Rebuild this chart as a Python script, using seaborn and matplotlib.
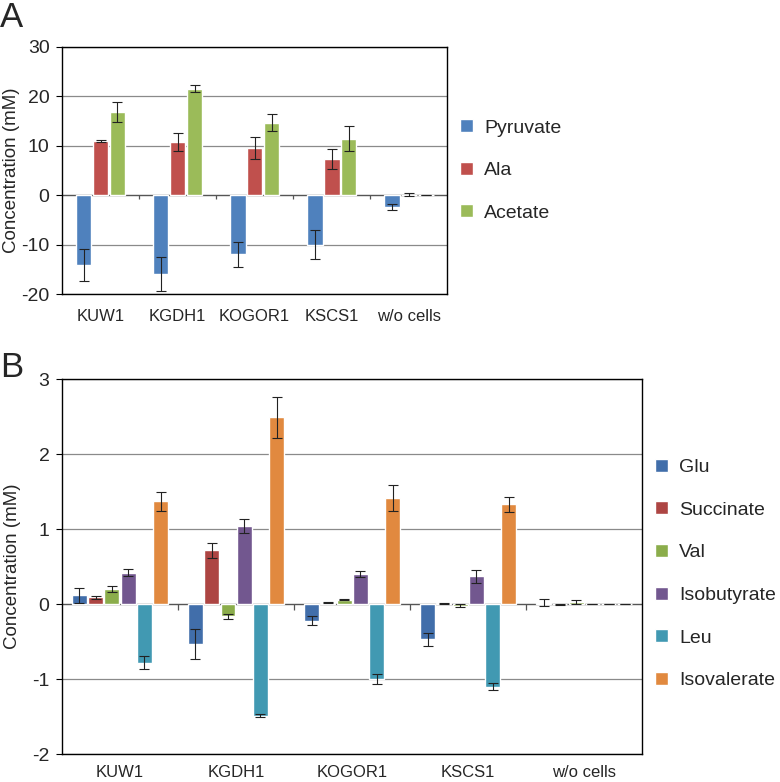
import pandas as pd
import matplotlib
matplotlib.use("Agg")
import matplotlib.pyplot as plt
import seaborn as sns

# Categories (strains)
strains = ["KUW1", "KGDH1", "KOGOR1", "KSCS1", "w/o cells"]

# Panel A values (mM)
a_compounds = ["Pyruvate", "Ala", "Acetate"]
a_pyruvate = [-14.1, -15.9, -12.0, -10.0, -2.4]
a_ala = [10.95, 10.7, 9.5, 7.3, 0.1]
a_acetate = [16.9, 21.5, 14.7, 11.4, 0.0]
a_pyruvate_err = [3.2, 3.4, 2.6, 2.9, 0.6]
a_ala_err = [0.2, 1.8, 2.2, 2.0, 0.3]
a_acetate_err = [2.0, 0.7, 1.75, 2.5, 0.0]

# Panel B values (mM)
b_compounds = ["Glu", "Succinate", "Val", "Isobutyrate", "Leu", "Isovalerate"]
b_glu = [0.12, -0.53, -0.22, -0.47, 0.02]
b_succinate = [0.093, 0.72, 0.018, 0.01, -0.005]
b_val = [0.2, -0.165, 0.058, -0.022, 0.027]
b_isobutyrate = [0.42, 1.04, 0.40, 0.37, 0.0]
b_leu = [-0.78, -1.49, -1.0, -1.1, 0.0]
b_isovalerate = [1.37, 2.49, 1.41, 1.33, 0.0]
b_glu_err = [0.1, 0.2, 0.065, 0.09, 0.05]
b_succinate_err = [0.02, 0.1, 0.01, 0.005, 0.005]
b_val_err = [0.035, 0.035, 0.01, 0.02, 0.027]
b_isobutyrate_err = [0.05, 0.09, 0.045, 0.085, 0.0]
b_leu_err = [0.09, 0.02, 0.07, 0.05, 0.0]
b_isovalerate_err = [0.13, 0.27, 0.175, 0.1, 0.0]

a_colors = ["#4F81BD", "#C0504D", "#9BBB59"]
b_colors = ["#416EAA", "#AD4543", "#8BAD4B", "#72578F", "#4199B2", "#E1893F"]

sns.set_style("white")
plt.rcParams["font.family"] = ["Liberation Sans", "DejaVu Sans"]


def long_table(compounds, values, errors):
    rows = []
    for comp, vals, errs in zip(compounds, values, errors):
        for s, v, e in zip(strains, vals, errs):
            rows.append({"strain": s, "compound": comp, "value": v, "err": e})
    return pd.DataFrame(rows)


def draw_panel(ax, df, compounds, colors, width, gap, ylim, yticks, legend_y,
               xpad, label_x):
    sns.barplot(data=df, x="strain", y="value", hue="compound", order=strains,
                hue_order=compounds, palette=colors, width=width, gap=gap,
                errorbar=None, saturation=1, ax=ax, zorder=3)
    # error bars at the bar centres
    for comp, cont in zip(compounds, ax.containers):
        sub = df[df["compound"] == comp].set_index("strain").loc[strains]
        xs = [p.get_x() + p.get_width() / 2 for p in cont.patches]
        ax.errorbar(xs, sub["value"], yerr=sub["err"], fmt="none",
                    ecolor="#222222", elinewidth=0.8, capsize=3.5,
                    capthick=0.8, zorder=4)
    ax.set_ylim(*ylim)
    ax.set_xlim(-0.5, len(strains) - 0.5)
    ax.set_yticks(yticks)
    ax.yaxis.grid(True, color="#8a8a8a", linewidth=0.9, zorder=0)
    ax.set_axisbelow(True)
    ax.axhline(0, color="#555555", linewidth=0.9, zorder=2)
    span = ylim[1] - ylim[0]
    ax.vlines([i + 0.5 for i in range(len(strains) - 1)], 0, -span * 0.015,
              color="#555555", linewidth=0.9)
    for s in ax.spines.values():
        s.set_color("black")
        s.set_linewidth(1.0)
    ax.tick_params(axis="y", length=4, color="black", labelsize=14, pad=5, left=True)
    ax.tick_params(axis="x", length=0, labelsize=12, pad=xpad)
    ax.set_xlabel("")
    ax.set_ylabel("Concentration (mM)", fontsize=13.5)
    ax.yaxis.set_label_coords(label_x, 0.5)
    ax.set_yticklabels([str(t) for t in yticks])
    handles, labels = ax.get_legend_handles_labels()
    ax.legend(handles, labels, loc="center left", bbox_to_anchor=(1.0, legend_y),
              frameon=False, fontsize=14, handlelength=0.65, handleheight=0.65,
              handletextpad=0.6, labelspacing=1.3, borderaxespad=0.25)


fig = plt.figure(figsize=(7.8, 7.82), dpi=100)
ax_a = fig.add_axes([0.0795, 0.624, 0.494, 0.316])
ax_b = fig.add_axes([0.0795, 0.0358, 0.744, 0.4795])

df_a = long_table(a_compounds, [a_pyruvate, a_ala, a_acetate],
                  [a_pyruvate_err, a_ala_err, a_acetate_err])
df_b = long_table(b_compounds,
                  [b_glu, b_succinate, b_val, b_isobutyrate, b_leu, b_isovalerate],
                  [b_glu_err, b_succinate_err, b_val_err, b_isobutyrate_err,
                   b_leu_err, b_isovalerate_err])

draw_panel(ax_a, df_a, a_compounds, a_colors, 0.66, 0.08, (-20, 30),
           [-20, -10, 0, 10, 20, 30], 0.5, 11, -0.108)
draw_panel(ax_b, df_b, b_compounds, b_colors, 0.84, 0.08, (-2, 3),
           [-2, -1, 0, 1, 2, 3], 0.48, 8, -0.071)

fig.text(0.0, 1 - 27 / 782, "A", fontsize=25, va="baseline", ha="left")
fig.text(0.0, 1 - 377 / 782, "B", fontsize=25, va="baseline", ha="left")

fig.savefig("out.png", dpi=100)
